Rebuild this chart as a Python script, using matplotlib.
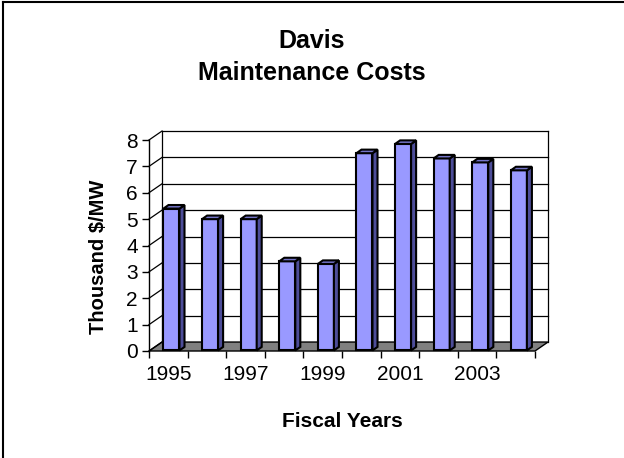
import numpy as np
import matplotlib
matplotlib.use('Agg')
from matplotlib import pyplot as plt
from matplotlib.patches import Polygon
from matplotlib.lines import Line2D

plt.rcParams['font.family'] = ['Liberation Sans', 'DejaVu Sans']

# data
years = [1995, 1996, 1997, 1998, 1999, 2000, 2001, 2002, 2003, 2004]
costs = [5.4, 5.0, 5.0, 3.4, 3.3, 7.5, 7.85, 7.3, 7.15, 6.85]
label_years = ['1995', '1997', '1999', '2001', '2003']
y_ticks = [0, 1, 2, 3, 4, 5, 6, 7, 8]

n = len(years)
ymax = y_ticks[-1]

# depth of the fake 3d box (data units) and of each column
DX, DY = 0.337, 0.34
bdx, bdy = 0.13, 0.135
bar_left, bar_w = 0.375, 0.415

face = '#9999ff'
side = '#4d4d99'
top = '#7373c6'

fig = plt.figure(figsize=(6.24, 4.58), dpi=100)
ax = fig.add_axes([149 / 624, 107 / 458, 386 / 624, 211 / 458])
ax.set_xlim(0, n)
ax.set_ylim(0, ymax)
ax.patch.set_visible(False)

# floor
floor = Polygon([(0, 0), (n, 0), (n + DX, DY), (DX, DY)], closed=True,
                facecolor='#808080', edgecolor='black', lw=1, clip_on=False, zorder=1)
ax.add_patch(floor)

# back wall and side wall gridlines
for v in y_ticks[1:]:
    ax.plot([DX, n + DX], [v + DY, v + DY], color='black', lw=0.9, clip_on=False, zorder=1)
for v in y_ticks:
    ax.plot([0, DX], [v, v + DY], color='black', lw=0.9, clip_on=False, zorder=1)
ax.plot([DX, DX], [DY, ymax + DY], color='black', lw=0.9, clip_on=False, zorder=1)
ax.plot([n + DX, n + DX], [DY, ymax + DY], color='black', lw=0.9, clip_on=False, zorder=1)

# columns
for i, v in enumerate(costs):
    x0 = i + bar_left
    x1 = x0 + bar_w
    ax.add_patch(Polygon([(x0, 0.02), (x1, 0.02), (x1, v), (x0, v)], closed=True,
                         facecolor=face, edgecolor='black', lw=1.5, zorder=3, clip_on=False))
    ax.add_patch(Polygon([(x1, 0.02), (x1 + bdx, 0.02 + bdy), (x1 + bdx, v + bdy), (x1, v)],
                         closed=True, facecolor=side, edgecolor='black', lw=1.5, zorder=3,
                         clip_on=False))
    ax.add_patch(Polygon([(x0, v), (x1, v), (x1 + bdx, v + bdy), (x0 + bdx, v + bdy)],
                         closed=True, facecolor=top, edgecolor='black', lw=1.5, zorder=3,
                         clip_on=False))

# axes
for s in ['top', 'right', 'bottom']:
    ax.spines[s].set_visible(False)
ax.spines['left'].set_linewidth(1)
ax.spines['left'].set_zorder(2)

ax.set_yticks(y_ticks)
ax.set_yticklabels([str(t) for t in y_ticks], fontsize=15)
ax.set_xticks(range(n + 1))
ax.set_xticklabels([''] * (n + 1))
ax.set_xticks([0.5 + 2 * k for k in range(len(label_years))], minor=True)
ax.set_xticklabels(label_years, minor=True, fontsize=15)
ax.tick_params(axis='both', which='major', direction='out', length=5, width=1, color='black')
ax.tick_params(axis='x', which='minor', length=0, pad=10)
ax.tick_params(axis='y', pad=3)

ax.set_xlabel('Fiscal Years', fontsize=15, fontweight='bold')
ax.xaxis.set_label_coords(0.5, -0.29)
ax.set_ylabel('Thousand $/MW', fontsize=14.5, fontweight='bold')
ax.yaxis.set_label_coords(-0.105, 0.445)

fig.text(0.5, 1 - 57 / 458, 'Davis\nMaintenance Costs', ha='center', va='center',
         fontsize=18, fontweight='bold', linespacing=1.4)

# chart frame (only left and top edges show)
fig.add_artist(Line2D([3 / 624, 3 / 624], [0, 1 - 1.5 / 458], color='black', lw=1.5))
fig.add_artist(Line2D([3 / 624, 1], [1 - 1.5 / 458, 1 - 1.5 / 458], color='black', lw=1.5))

fig.savefig('out.png', dpi=100)
